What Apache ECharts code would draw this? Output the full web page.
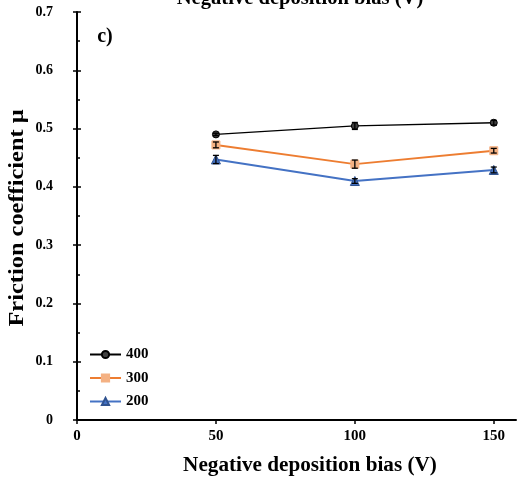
<!DOCTYPE html>
<html>
<head>
<meta charset="utf-8">
<script src="https://cdn.jsdelivr.net/npm/echarts@6/dist/echarts.min.js"></script>
<style>html,body{margin:0;padding:0;background:#fff;}#c{width:518px;height:485px;}</style>
</head>
<body>
<div id="c"></div>
<script>
// Data
const biasV = [50, 100, 150];
const seriesNames = ['400', '300', '200'];
const mu400 = [0.490, 0.5045, 0.510];
const err400 = [0.002, 0.006, 0.004];
const mu300 = [0.472, 0.439, 0.462];
const err300 = [0.005, 0.007, 0.004];
const mu200 = [0.447, 0.410, 0.429];
const err200 = [0.007, 0.004, 0.005];
const xTicks = [0, 50, 100, 150];
const yTicks = [0, 0.1, 0.2, 0.3, 0.4, 0.5, 0.6, 0.7];
const xTitle = 'Negative deposition bias (V)';
const yTitle = 'Friction coefficient μ';
const panelLabel = 'c)';

const FONT = '"Liberation Serif", "Times New Roman", serif';
const pts = (ys) => biasV.map((x, i) => [x, ys[i]]);
const errPts = (ys, es) => biasV.map((x, i) => [x, ys[i], es[i]]);

function errRender(params, api) {
  const x = api.value(0), y = api.value(1), e = api.value(2);
  const t = api.coord([x, y + e]), b = api.coord([x, y - e]);
  const w = 3;
  const st = { stroke: '#000', lineWidth: 1.3 };
  return { type: 'group', children: [
    { type: 'line', shape: { x1: t[0], y1: t[1], x2: b[0], y2: b[1] }, style: st },
    { type: 'line', shape: { x1: t[0] - w, y1: t[1], x2: t[0] + w, y2: t[1] }, style: st },
    { type: 'line', shape: { x1: b[0] - w, y1: b[1], x2: b[0] + w, y2: b[1] }, style: st }
  ]};
}

const chart = echarts.init(document.getElementById('c'), null, { renderer: 'canvas' });
const yCommon = { type: 'value', min: 0, max: 0.7, interval: 0.1, position: 'left' };
chart.setOption({
  animation: false,
  backgroundColor: '#fff',
  textStyle: { fontFamily: FONT },
  grid: { left: 77, right: 2, top: 12, bottom: 65, containLabel: false, outerBoundsMode: 'none' },
  legend: {
    data: seriesNames,
    orient: 'vertical',
    left: 84, top: 342,
    itemWidth: 31, itemHeight: 9, itemGap: 8.5,
    textStyle: { fontFamily: FONT, fontWeight: 'bold', fontSize: 15, color: '#000' }
  },
  graphic: [
    { type: 'text', x: 300, y: -1, scaleX: 1.03, style: { text: xTitle, font: 'bold 20px ' + FONT, fill: '#000', align: 'center', verticalAlign: 'middle' } },
    { type: 'text', x: 310, y: 466, scaleX: 1.06, style: { text: xTitle, font: 'bold 20px ' + FONT, fill: '#000', align: 'center', verticalAlign: 'middle' } },
    { type: 'text', x: 18, y: 218, rotation: Math.PI / 2, scaleX: 1.22, style: { text: yTitle, font: 'bold 20px ' + FONT, fill: '#000', align: 'center', verticalAlign: 'middle' } },
    { type: 'text', x: 105, y: 37, style: { text: panelLabel, font: 'bold 20px ' + FONT, fill: '#000', align: 'center', verticalAlign: 'middle' } }
  ],
  xAxis: {
    type: 'value', min: 0, max: 158,
    axisLine: { onZero: false, lineStyle: { color: '#000', width: 2 } },
    axisTick: { show: true, inside: false, length: 4, lineStyle: { color: '#000', width: 1.5 }, customValues: xTicks },
    axisLabel: { customValues: xTicks, margin: 9, color: '#000', fontFamily: FONT, fontWeight: 'bold', fontSize: 15 },
    splitLine: { show: false }
  },
  yAxis: [
    Object.assign({}, yCommon, {
      axisLine: { show: true, onZero: false, lineStyle: { color: '#000', width: 2 } },
      axisTick: { show: true, inside: false, length: 4, lineStyle: { color: '#000', width: 1.5 }, customValues: yTicks },
      axisLabel: { customValues: yTicks, margin: 24, color: '#000', fontFamily: FONT, fontWeight: 'bold', fontSize: 14,
        formatter: (v) => (Math.round(v * 10) / 10).toString() },
      splitLine: { show: false }
    }),
    Object.assign({}, yCommon, {
      axisLine: { show: false },
      axisTick: { show: true, inside: true, length: 4, lineStyle: { color: '#000', width: 1.5 } },
      minorTick: { show: true, splitNumber: 2, length: 3, lineStyle: { color: '#000', width: 1.5 } },
      axisLabel: { show: false },
      splitLine: { show: false }
    })
  ],
  series: [
    { name: '400', type: 'line', data: pts(mu400), symbol: 'circle', symbolSize: 7,
      lineStyle: { color: '#000', width: 1.3 }, itemStyle: { color: '#404040', borderColor: '#000', borderWidth: 1 }, z: 5 },
    { name: '300', type: 'line', data: pts(mu300), symbol: 'rect', symbolSize: 8,
      lineStyle: { color: '#ED7D31', width: 2 }, itemStyle: { color: '#F4B183', borderColor: '#F4B183', borderWidth: 1 }, z: 4 },
    { name: '200', type: 'line', data: pts(mu200), symbol: 'triangle', symbolSize: 9,
      lineStyle: { color: '#4472C4', width: 2 }, itemStyle: { color: '#4472C4', borderColor: '#2F528F', borderWidth: 1 }, z: 3 },
    { name: 'e400', type: 'custom', renderItem: errRender, data: errPts(mu400, err400), encode: { x: 0, y: 1 }, z: 10 },
    { name: 'e300', type: 'custom', renderItem: errRender, data: errPts(mu300, err300), encode: { x: 0, y: 1 }, z: 10 },
    { name: 'e200', type: 'custom', renderItem: errRender, data: errPts(mu200, err200), encode: { x: 0, y: 1 }, z: 10 }
  ]
});
</script>
</body>
</html>
